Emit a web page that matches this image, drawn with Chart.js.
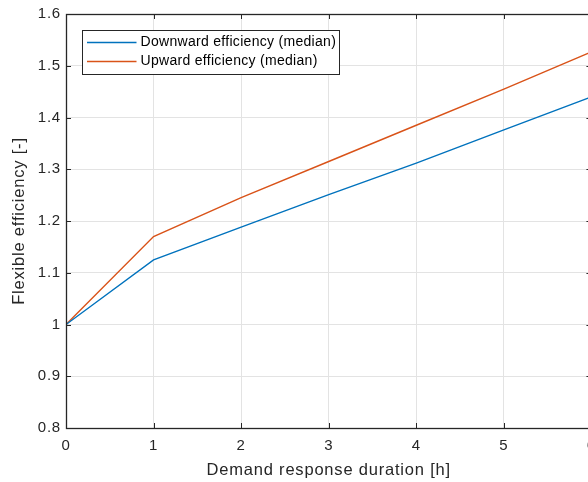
<!DOCTYPE html>
<html>
<head>
<meta charset="utf-8">
<title>Flexible efficiency vs demand response duration</title>
<script src="https://cdn.jsdelivr.net/npm/chart.js@4.4.1/dist/chart.umd.min.js"></script>
<style>
    html, body { margin: 0; padding: 0; background: #fff; overflow: hidden; }
    #wrap { width: 605px; height: 482px; }
</style>
</head>
<body>
<div id="wrap"><canvas id="effChart" width="605" height="482"></canvas></div>
<script>
// demand response duration [h]
const durationHours = [0, 1, 2, 3, 4, 5, 6];
// median flexible efficiency per duration
const downwardMedian = [1.0, 1.125, 1.188, 1.251, 1.312, 1.376, 1.44];
const upwardMedian = [1.0, 1.17, 1.245, 1.315, 1.385, 1.455, 1.527];
const seriesLabels = ['Downward efficiency (median)', 'Upward efficiency (median)'];
const xTicks = [0, 1, 2, 3, 4, 5, 6];
const yTicks = [0.8, 0.9, 1.0, 1.1, 1.2, 1.3, 1.4, 1.5, 1.6];

const axisColor = '#262626';
const gridColor = '#e3e3e3';
const fontFamily = '"Liberation Sans", Arial, Helvetica, sans-serif';
const seriesColors = ['#0072BD', '#D95319'];

function toPoints(xs, ys) {
    return xs.map((x, i) => ({ x: x, y: ys[i] }));
}

// the axis text is rendered a little spaced out
const spacingPlugin = {
    id: 'spacing',
    beforeLayout(chart) { chart.ctx.letterSpacing = '0.8px'; },
    beforeDraw(chart) { chart.ctx.letterSpacing = '0.8px'; }
};

// box around the axes, inward tick marks, and the framed legend
const framePlugin = {
    id: 'frame',
    afterDraw(chart) {
        const { ctx, chartArea: a, scales } = chart;
        const tickLen = 5;
        ctx.save();
        ctx.strokeStyle = axisColor;
        ctx.lineWidth = 1;
        ctx.beginPath();
        xTicks.forEach(t => {
            const px = Math.round(scales.x.getPixelForValue(t)) + 0.5;
            ctx.moveTo(px, a.bottom); ctx.lineTo(px, a.bottom - tickLen);
            ctx.moveTo(px, a.top); ctx.lineTo(px, a.top + tickLen);
        });
        yTicks.forEach(t => {
            const py = Math.round(scales.y.getPixelForValue(t)) + 0.5;
            ctx.moveTo(a.left, py); ctx.lineTo(a.left + tickLen, py);
            ctx.moveTo(a.right, py); ctx.lineTo(a.right - tickLen, py);
        });
        ctx.stroke();
        ctx.lineWidth = 1.3;
        ctx.strokeRect(Math.round(a.left) + 0.5, Math.round(a.top) + 0.5,
            Math.round(a.right - a.left), Math.round(a.bottom - a.top));

        // legend
        ctx.letterSpacing = '0.3px';
        ctx.font = '14px ' + fontFamily;
        const bx = a.left + 16.5, by = a.top + 16.5;
        const textX = bx + 58, rowH = 19;
        const textW = Math.max(...seriesLabels.map(s => ctx.measureText(s).width));
        const bw = Math.round(textX + textW + 3 - bx), bh = 44;
        ctx.fillStyle = '#fff';
        ctx.fillRect(bx, by, bw, bh);
        ctx.lineWidth = 1;
        ctx.strokeStyle = axisColor;
        ctx.strokeRect(bx, by, bw, bh);
        seriesLabels.forEach((label, i) => {
            const ry = by + 12 + i * rowH;
            ctx.strokeStyle = seriesColors[i];
            ctx.lineWidth = 1.3;
            ctx.beginPath();
            ctx.moveTo(bx + 4.5, ry);
            ctx.lineTo(bx + 54, ry);
            ctx.stroke();
            ctx.fillStyle = '#000';
            ctx.textBaseline = 'middle';
            ctx.textAlign = 'left';
            ctx.fillText(label, textX, ry);
        });
        ctx.restore();
    }
};

const ctx = document.getElementById('effChart').getContext('2d');
new Chart(ctx, {
    type: 'line',
    data: {
        datasets: [
            {
                label: seriesLabels[0],
                data: toPoints(durationHours, downwardMedian),
                borderColor: seriesColors[0],
                borderWidth: 1.4,
                pointRadius: 0,
                fill: false,
                tension: 0
            },
            {
                label: seriesLabels[1],
                data: toPoints(durationHours, upwardMedian),
                borderColor: seriesColors[1],
                borderWidth: 1.4,
                pointRadius: 0,
                fill: false,
                tension: 0
            }
        ]
    },
    options: {
        responsive: false,
        animation: false,
        events: [],
        layout: { padding: { top: 14, right: 0, left: 0, bottom: 0 } },
        plugins: {
            legend: { display: false },
            tooltip: { enabled: false }
        },
        scales: {
            x: {
                type: 'linear',
                min: 0,
                max: 6,
                afterFit(scale) { scale.height = 54; },
                afterBuildTicks(scale) { scale.ticks = xTicks.map(v => ({ value: v })); },
                ticks: {
                    color: axisColor,
                    padding: 9,
                    maxRotation: 0,
                    font: { family: fontFamily, size: 15 },
                    callback: v => String(v)
                },
                grid: { color: gridColor, drawTicks: false },
                border: { display: false },
                title: {
                    display: true,
                    text: 'Demand response duration [h]',
                    color: axisColor,
                    font: { family: fontFamily, size: 16.5 },
                    padding: { top: 0, bottom: 1.5 }
                }
            },
            y: {
                type: 'linear',
                min: 0.8,
                max: 1.6,
                afterFit(scale) { scale.width = 66; },
                afterBuildTicks(scale) { scale.ticks = yTicks.map(v => ({ value: v })); },
                ticks: {
                    color: axisColor,
                    padding: 5,
                    font: { family: fontFamily, size: 15 },
                    callback: v => String(parseFloat(v.toFixed(1)))
                },
                grid: { color: gridColor, drawTicks: false },
                border: { display: false },
                title: {
                    display: true,
                    text: 'Flexible efficiency [-]',
                    color: axisColor,
                    font: { family: fontFamily, size: 16.5 },
                    padding: { top: 10, bottom: 0 }
                }
            }
        }
    },
    plugins: [spacingPlugin, framePlugin]
});
</script>
</body>
</html>
